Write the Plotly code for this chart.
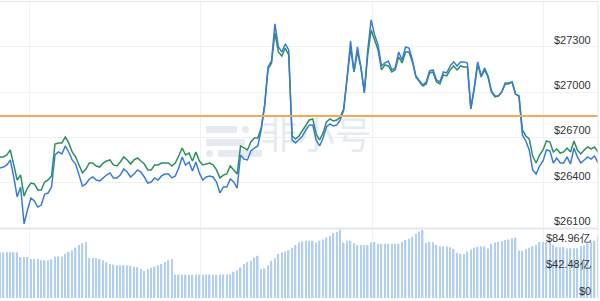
import plotly.graph_objects as go

blue = [26498, 26504, 26518, 26551, 26438, 26306, 26372, 26127, 26219, 26299,
        26279, 26239, 26252, 26325, 26332, 26372, 26584, 26604, 26591, 26644,
        26604, 26551, 26524, 26451, 26378, 26392, 26425, 26438, 26418, 26412,
        26432, 26451, 26465, 26432, 26432, 26451, 26491, 26471, 26438, 26458,
        26485, 26471, 26438, 26398, 26405, 26432, 26418, 26445, 26458, 26458,
        26432, 26445, 26498, 26571, 26518, 26538, 26478, 26538, 26465, 26418,
        26438, 26445, 26438, 26405, 26332, 26372, 26372, 26425, 26405, 26365,
        26584, 26557, 26551, 26611, 26630, 26644, 26750, 26916, 27167, 27207,
        27453, 27300, 27267, 27320, 27280, 26683, 26664, 26690, 26710, 26750,
        26783, 26783, 26683, 26644, 26697, 26770, 26790, 26776, 26783, 26816,
        26882, 27094, 27340, 27134, 27300, 27167, 26995, 27280, 27479, 27380,
        27313, 27174, 27194, 27207, 27148, 27161, 27267, 27214, 27300, 27293,
        27214, 27108, 27075, 27048, 27068, 27141, 27148, 27081, 27068, 27134,
        27128, 27174, 27201, 27174, 27201, 27201, 27194, 26889, 27035, 27201,
        27108, 27161, 27108, 27008, 26975, 26975, 27002, 27061, 27061, 27068,
        26988, 26975, 26717, 26677, 26617, 26485, 26458, 26511, 26544, 26617,
        26611, 26531, 26564, 26531, 26531, 26571, 26524, 26630, 26571, 26531,
        26551, 26571, 26557, 26577, 26531]

green = [26571, 26571, 26584, 26617, 26518, 26418, 26451, 26312, 26365, 26398,
         26392, 26352, 26352, 26405, 26418, 26445, 26657, 26664, 26664, 26703,
         26664, 26604, 26571, 26518, 26465, 26491, 26531, 26531, 26511, 26504,
         26531, 26544, 26551, 26518, 26511, 26538, 26571, 26551, 26524, 26551,
         26564, 26544, 26524, 26485, 26485, 26518, 26518, 26531, 26531, 26531,
         26511, 26531, 26577, 26630, 26584, 26597, 26544, 26604, 26544, 26518,
         26524, 26531, 26518, 26485, 26432, 26451, 26458, 26511, 26485, 26458,
         26644, 26630, 26617, 26670, 26697, 26697, 26763, 26909, 27154, 27194,
         27393, 27267, 27240, 27293, 27247, 26710, 26690, 26710, 26743, 26776,
         26816, 26823, 26723, 26683, 26730, 26803, 26823, 26809, 26816, 26836,
         26889, 27094, 27293, 27134, 27267, 27167, 27002, 27247, 27413, 27346,
         27280, 27148, 27181, 27174, 27134, 27148, 27234, 27194, 27267, 27267,
         27201, 27101, 27068, 27041, 27055, 27128, 27134, 27068, 27055, 27114,
         27108, 27148, 27174, 27148, 27174, 27167, 27167, 26889, 27022, 27187,
         27101, 27148, 27101, 27002, 26969, 26975, 27002, 27055, 27055, 27068,
         26988, 26975, 26750, 26710, 26690, 26577, 26531, 26584, 26617, 26677,
         26670, 26604, 26624, 26597, 26604, 26630, 26604, 26677, 26617, 26591,
         26617, 26637, 26624, 26637, 26604]

volume = [72.6, 72.6, 72.6, 72.6, 72.6, 72.6, 65, 65, 65, 62,
          62, 62, 60, 60, 60, 61, 66, 66, 66, 70,
          73, 76, 80, 84, 87, 89, 63.6, 63.6, 63.6, 62,
          60, 57, 54, 53, 52, 52, 52, 52, 51, 50,
          49, 46, 43, 46, 48, 50, 52, 54, 57, 60,
          62, 37, 37, 37, 37, 37, 37, 37, 37, 37,
          37, 37, 37, 37, 37, 37.5, 37.5, 37.5, 41.7, 44,
          48.6, 54, 57, 59, 64, 67, 46, 47, 52, 59,
          63, 70, 72.6, 74, 76, 80, 84, 88, 90, 91,
          91, 91, 88, 91, 93, 96, 99, 103, 105, 108,
          88, 91, 91, 87, 84, 84, 84, 84, 88, 89,
          86, 86, 86, 86, 86, 86, 86, 89, 92, 94,
          96.7, 102, 105.8, 108, 87.7, 88.7, 88.7, 84.4, 82, 82,
          82, 80.6, 78, 71.6, 70, 70, 73.7, 77, 80, 81,
          82, 82, 78.8, 86, 88, 89, 90, 92, 93, 95,
          96, 75.3, 75.3, 78, 80, 82, 84.4, 89, 89, 89,
          89, 84.4, 80.6, 80.6, 80.6, 79, 79, 79, 79, 82.5,
          84, 87, 89, 91, 98]

ref_price = 26843
price_ticks = [26100, 26400, 26700, 27000, 27300]
price_labels = ["$26100", "$26400", "$26700", "$27000", "$27300"]
vol_ticks = [0, 42.48, 84.96]
vol_labels = ["$0", "$42.48亿", "$84.96亿"]
grid_ticks = [8.7, 58.2, 108.5, 158.0]

idx = list(range(len(blue)))
W, H = 600, 301
xr = 598 / W

fig = go.Figure()

# watermark text (behind the lines)
fig.add_trace(go.Scatter(
    x=[92], y=[26683], mode="text", text=["非小号"],
    textfont=dict(family="Noto Sans CJK SC", size=37, color="#e7ebf1"),
    hoverinfo="skip", showlegend=False))

fig.add_trace(go.Bar(
    x=idx, y=volume, xaxis="x2", yaxis="y2", width=0.45,
    marker=dict(color="#b3cff0", line=dict(width=0)), showlegend=False))

fig.add_trace(go.Scatter(
    x=idx, y=green, mode="lines", line=dict(color="#2f8f5b", width=1.5),
    showlegend=False))
fig.add_trace(go.Scatter(
    x=idx, y=blue, mode="lines", line=dict(color="#3a7bd8", width=1.5),
    showlegend=False))

def px2x(p):
    return p / W

def px2y(p):
    return 1 - p / H

shapes = []
# watermark icon
icon_parts = [
    ("rect", 206, 126, 237, 133), ("circle", 242, 126, 249, 133),
    ("rect", 206, 139, 245, 146),
    ("circle", 206, 150, 213, 157), ("rect", 218, 150, 262, 157),
]
for kind, x0, y0, x1, y1 in icon_parts:
    shapes.append(dict(type=kind, xref="paper", yref="paper",
                       x0=px2x(x0), x1=px2x(x1), y0=px2y(y1), y1=px2y(y0),
                       fillcolor="#e7ebf1", line=dict(width=0), layer="below"))
# reference line
shapes.append(dict(type="line", xref="paper", yref="y", x0=0, x1=xr,
                   y0=ref_price, y1=ref_price,
                   line=dict(color="#f2aa5a", width=2)))
# borders
shapes.append(dict(type="line", xref="paper", yref="paper", x0=0, x1=xr,
                   y0=px2y(1.5), y1=px2y(1.5), line=dict(color="#e3e6ea", width=1.2)))
shapes.append(dict(type="line", xref="paper", yref="paper", x0=0, x1=xr,
                   y0=px2y(228.5), y1=px2y(228.5), line=dict(color="#e3e6ea", width=1.8)))
shapes.append(dict(type="line", xref="paper", yref="paper", x0=xr, x1=xr,
                   y0=0, y1=px2y(1.5), line=dict(color="#e3e6ea", width=1)))

tickfont = dict(family="Liberation Sans, Arial", size=11, color="#333333")

annotations = []
for v, t in zip(price_ticks, price_labels):
    annotations.append(dict(x=593 / W, xref="paper", xanchor="right",
                            y=v, yref="y", yanchor="middle", yshift=7,
                            text=t, showarrow=False, font=tickfont))
for v, t in zip(vol_ticks, vol_labels):
    annotations.append(dict(x=593 / W, xref="paper", xanchor="right",
                            y=v, yref="y2", yanchor="middle", yshift=7,
                            text=t, showarrow=False, font=tickfont))

fig.update_layout(
    width=W, height=H,
    margin=dict(l=0, r=0, t=0, b=0, pad=0),
    paper_bgcolor="white", plot_bgcolor="white",
    bargap=0.5,
    shapes=shapes,
    annotations=annotations,
    xaxis=dict(domain=[0, xr], range=[0, len(blue) - 1], anchor="y",
               tickvals=grid_ticks, showticklabels=False, ticks="",
               showgrid=True, gridcolor="#eef1f5", gridwidth=1, zeroline=False),
    yaxis=dict(domain=[px2y(228), px2y(2)], range=[26100, 27598],
               side="right", anchor="x", tickvals=price_ticks,
               showticklabels=False, ticks="",
               showgrid=True, gridcolor="#eef1f5", gridwidth=1, zeroline=False),
    xaxis2=dict(domain=[0, xr], range=[0, len(blue) - 1], anchor="y2",
                tickvals=grid_ticks, showticklabels=False, ticks="",
                showgrid=True, gridcolor="#eef1f5", gridwidth=1, zeroline=False),
    yaxis2=dict(domain=[px2y(298), px2y(230)], range=[0, 108],
                side="right", anchor="x2", tickvals=vol_ticks,
                showticklabels=False, ticks="",
                showgrid=False, zeroline=False),
)

fig.write_html("out.html", config={"displayModeBar": False},
               post_script="document.body.style.margin='0';document.body.style.overflow='hidden';")
